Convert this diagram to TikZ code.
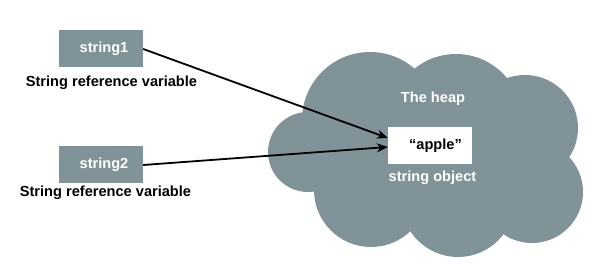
\documentclass[tikz,border=0pt]{standalone}
\usepackage{fontspec}
\setmainfont{Liberation Sans}
\usepackage{tikz}
\usetikzlibrary{arrows.meta, positioning}
\definecolor{heapgray}{HTML}{7F9399}

\begin{document}
\begin{tikzpicture}[
    x=1pt, y=-1pt,
    font=\fontsize{14.6}{17}\selectfont\bfseries,
    refbox/.style={fill=heapgray, text=white, minimum width=84pt, minimum height=37pt, inner sep=0pt},
    objbox/.style={fill=white, text=black, minimum width=84pt, minimum height=37pt, inner sep=0pt},
    caption/.style={text=black, inner sep=0pt},
    heaptext/.style={text=white, inner sep=0pt},
    arr/.style={-{Stealth[length=11pt, width=9pt]}, line width=1.8pt}
  ]
    \useasboundingbox (0,0) rectangle (600,272);

    % the heap
    \foreach \cx/\cy/\r in {308/152/40, 370/120/68, 456/120/66, 525/128/53, 532/192/51, 458/200/57, 371/190/57}
      \fill[heapgray] (\cx,\cy) circle[radius=\r pt];
    \fill[heapgray] (430,165) circle[x radius=90pt, y radius=60pt];

    \node[refbox]   (s1)    at (101,49)    {\hspace{6pt}string1};
    \node[caption]  (cap1)  at (111.5,83)  {String reference variable};
    \node[refbox]   (s2)    at (101,165)   {\hspace{6pt}string2};
    \node[caption]  (cap2)  at (105.5,193) {String reference variable};

    \node[heaptext] (heap)  at (433,99)    {The heap};
    \node[objbox]   (apple) at (430,145.5) {\hspace{11pt}“apple”};
    \node[heaptext] (obj)   at (432.5,178) {string object};

    \draw[arr] (s1.east) -- ([yshift=7.5pt]apple.west);
    \draw[arr] (s2.east) -- ([yshift=-1.5pt]apple.west);
  \end{tikzpicture}
\end{document}
